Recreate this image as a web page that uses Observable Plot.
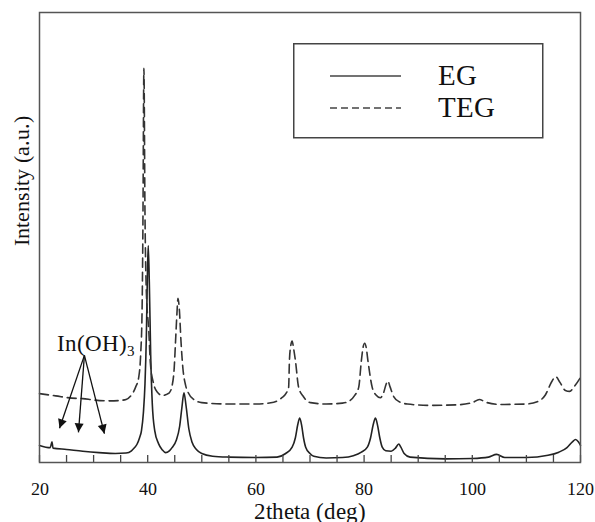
<!DOCTYPE html>
<html><head><meta charset="utf-8">
<script src="https://cdn.jsdelivr.net/npm/d3@7"></script>
<script src="https://cdn.jsdelivr.net/npm/@observablehq/plot@0.6"></script>
<style>
@font-face{font-family:"RefSerif";src:local("Liberation Serif"),local("LiberationSerif"),local("LiberationSerif-Regular"),local("DejaVu Serif"),local("DejaVuSerif"),local("Noto Serif"),local("NotoSerif-Regular");}
body{margin:0;background:#fff;}
#wrap{position:relative;width:595px;height:522px;overflow:hidden;background:#fff;}
#legend{position:absolute;left:293px;top:43px;}
</style></head><body><div id="wrap"></div>
<script>
// ---- data ----
const seriesNames = ["EG", "TEG"];
const egTheta = [20,22,22.3,22.5,25,28,31,34,36,37,37.5,38,38.5,38.85,39.2,39.5,39.75,39.95,40.1,40.3,40.55,40.85,41.3,42,42.7,43.3,44,44.5,45.3,45.9,46.3,46.7,47.1,47.6,48.2,49,50,52,55,60,63.9,65.5,66.7,67.3,67.75,68.1,68.45,68.8,69.2,70,70.7,73,76,78,79.5,80.6,81.2,81.7,82.1,82.5,82.9,83.35,84,85,85.8,86.4,86.8,87.4,88.5,95,100,103,104.5,106,110,114,116,117.5,118.5,119.1,119.6,120];
const egIntensity = [3.8,3.3,4.6,3.2,2.9,2.5,2.2,2.0,2.1,2.6,3.2,4.0,5.5,7.1,11,17.5,28,42,48.2,40,24,13,7.1,4.2,2.8,2.2,2.6,3.3,5,8,12,15.5,12.5,7.5,4.5,2.9,2.0,1.4,1.2,1.1,1.2,2,3.4,5.5,8.5,9.9,8.3,5.5,3.4,2,1.4,1.0,1.1,1.5,2.3,3.4,5.5,8.5,9.9,8.2,5.5,3.4,2.6,2.5,3.2,4.1,3.4,2,1.2,0.8,0.9,1.2,1.8,1.1,1.1,1.6,2.3,3.3,4.6,5.1,4.6,3.8];
const tegTheta = [20,23,26,28,30,33,35,36,37,37.75,38.35,38.7,38.95,39.1,39.3,39.5,39.75,40.2,40.5,41.1,41.8,42.7,43.6,44.0,44.5,44.9,45.15,45.4,45.6,45.85,46.15,46.5,47,47.5,48.5,50,55,60,63.3,64.8,65.6,66.05,66.2,66.45,66.7,66.95,67.3,67.9,68.8,70.1,73,76,77.2,78.2,79,79.5,79.8,80.1,80.4,80.7,81.5,82.2,83.0,83.6,84.1,84.4,84.8,85.5,86.5,88,92,97,100,101.3,102.5,105,110,112,113.5,114.7,115.4,116.2,117.2,118,118.8,120];
const tegIntensity = [15.3,14.8,14.3,14.2,13.9,13.7,13.8,14.0,15.0,16.7,19,24,33,50,87.6,55,38,29.3,22,17.5,15.6,14.9,15.2,15.5,17,21,27,33,36.5,34,27,21,17.2,15.5,14,13.3,13.0,13.0,13.4,14.4,15.4,16.7,22.7,26,27,25.5,22.7,16.7,14.6,13.3,13.0,13.2,13.6,14.8,16.7,22.7,25.5,26.5,25.5,22.7,16.7,15,14.4,15.5,17.5,18.1,16.8,14.6,13.5,13,12.7,12.8,13.3,14,13.4,12.9,13,13.5,15,18,19.1,17.8,16,15.8,16.8,18.9];
const xTickLabels = [20, 40, 60, 80, 100, 120];
const xMinorTicks = [20,25,30,35,40,45,50,55,60,65,70,75,80,85,90,95,100,105,110,115,120];
const xLabel = "2theta (deg)";
const yLabel = "Intensity (a.u.)";
const annotationText = "In(OH)3";
const annotationTheta = 23.3, annotationIntensity = 24.8;
const arrowFromTheta = 28.3, arrowFromIntensity = 23.8;
const arrowTipTheta = [23.7, 27.2, 32.0];
const arrowTipIntensity = [7.6, 6.7, 6.4];

const eg = egTheta.map((t, i) => ({theta: t, intensity: egIntensity[i]}));
const teg = tegTheta.map((t, i) => ({theta: t, intensity: tegIntensity[i]}));
const arrows = arrowTipTheta.map((t, i) => ({x1: arrowFromTheta, y1: arrowFromIntensity, x2: t, y2: arrowTipIntensity[i]}));

const tipTriangle = {draw(ctx) { ctx.moveTo(0, 0); ctx.lineTo(-4.5, 9); ctx.lineTo(4.5, 9); ctx.closePath(); }};
const serif = "RefSerif, Liberation Serif, DejaVu Serif, serif";
const W = 595, H = 522, ML = 39, MR = 15, MT = 12, MB = 60;

function makePlot(rotations) {
  return Plot.plot({
    width: W, height: H,
    marginLeft: ML, marginRight: MR, marginTop: MT, marginBottom: MB,
    x: {domain: [20, 120], label: null, axis: null},
    y: {domain: [0, 100], label: null, axis: null},
    style: {fontFamily: serif, fontSize: "18px", color: "#111", background: "#fff"},
    marks: [
      Plot.line(eg, {x: "theta", y: "intensity", stroke: "#222", strokeWidth: 1.6, curve: "monotone-x"}),
      Plot.line(teg, {x: "theta", y: "intensity", stroke: "#333", strokeWidth: 1.6, strokeDasharray: "9,5", curve: "monotone-x"}),
      Plot.link(arrows, {x1: "x1", y1: "y1", x2: "x2", y2: "y2", stroke: "#111", strokeWidth: 1.3}),
      rotations ? Plot.dot(arrows, {x: "x2", y: "y2", symbol: tipTriangle, fill: "#111", stroke: "none", rotate: (d, i) => rotations[i]}) : null,
      Plot.text([annotationText], {x: () => annotationTheta, y: () => annotationIntensity, text: d => d, textAnchor: "start", lineAnchor: "bottom", fontSize: 23, fill: "#111"}),
      Plot.text([yLabel], {frameAnchor: "left", rotate: -90, dx: -11, dy: 8, text: d => d, lineAnchor: "bottom", fontSize: 22, fill: "#111"}),
      Plot.text([xLabel], {frameAnchor: "bottom", dy: 56, text: d => d, lineAnchor: "bottom", fontSize: 23, fill: "#111"}),
      Plot.tickX(xMinorTicks, {x: d => d, insetTop: H - MT - MB - 7, stroke: "#444", strokeWidth: 1.3}),
      Plot.axisX({ticks: xTickLabels, tickSize: 0, tickPadding: 20, fontSize: 18, label: null, fill: "#111"}),
      Plot.frame({stroke: "#555", strokeWidth: 1.5})
    ]
  });
}

const p0 = makePlot(null);
const sx = p0.scale("x"), sy = p0.scale("y");
const rotations = arrows.map(a => {
  const vx = sx.apply(a.x2) - sx.apply(a.x1);
  const vy = sy.apply(a.y2) - sy.apply(a.y1);
  return Math.atan2(vx, -vy) * 180 / Math.PI;
});
const chart = makePlot(rotations);
d3.select(chart).selectAll("text").filter(function() { return this.textContent === annotationText; }).each(function() {
  this.textContent = "In(OH)";
  d3.select(this).append("tspan").attr("font-size", 15).attr("dy", 5).text("3");
});
const wrap = document.getElementById("wrap");
wrap.appendChild(chart);

// legend
const lg = d3.select(wrap).append("svg").attr("id", "legend").attr("width", 251).attr("height", 96);
lg.append("rect").attr("x", 0.75).attr("y", 0.75).attr("width", 249).attr("height", 94).attr("fill", "#fff").attr("stroke", "#444").attr("stroke-width", 1.5);
const dashes = [null, "7,4"];
seriesNames.forEach((name, i) => {
  const yy = 33 + i * 32;
  lg.append("line").attr("x1", 37).attr("x2", 108).attr("y1", yy).attr("y2", yy).attr("stroke", "#444").attr("stroke-width", 1.5).attr("stroke-dasharray", dashes[i]);
  lg.append("text").attr("x", 145).attr("y", yy + 9).attr("font-family", serif).attr("font-size", 29).attr("fill", "#111").text(name);
});
</script></body></html>
